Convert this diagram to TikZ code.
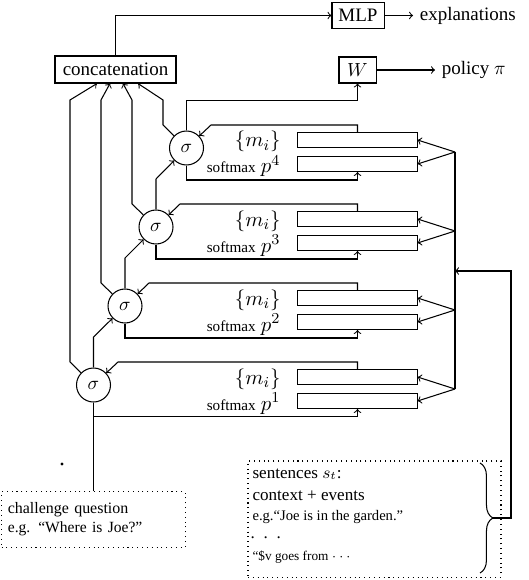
\documentclass[tikz,border=0pt]{standalone}
\usepackage{fontspec}
\setmainfont{Liberation Serif}
\usetikzlibrary{decorations.pathreplacing}

\begin{document}
\begin{tikzpicture}[x=0.5265pt, y=-0.5265pt, line width=0.55pt]
\tikzstyle{block}=[rectangle, draw, minimum height=13.5pt, inner sep=3pt]
\tikzstyle{gate}=[circle, draw, minimum size=17.9pt, inner sep=0pt]
\tikzstyle{membox}=[rectangle, draw, minimum width=62.7pt, minimum height=7.9pt, inner sep=0pt]
\tikzstyle{dotbox}=[rectangle, draw, dotted, inner sep=3.3pt]
\tikzstyle{lab}=[anchor=base east, inner sep=0pt, font=\fontsize{11}{13}\selectfont]
\tikzstyle{sent}=[anchor=base west, inner sep=0pt]

\useasboundingbox (0,0) rectangle (528,580);

% top row
\node[block, minimum width=27.4pt] (MLP) at (358,15.5) {MLP};
\node[anchor=west] (expl) at (413,15.5) {explanations};
\node[block, minimum width=63.7pt, minimum height=14.2pt] (concat) at (115.5,69.5) {concatenation};
\node[block, minimum width=19.5pt, minimum height=13.7pt] (W) at (357.5,70) {$W$};
\node[anchor=west] (policy) at (435,70) {policy $\pi$};

\draw[->] (concat.north) |- (MLP.west);
\draw[->] (MLP.east) -- (expl.west);
\draw[->] (W.east) -- (policy.west);

% hops
\node[gate] (s1) at (93.5,385) {$\sigma$};
\node[gate] (s2) at (125,306) {$\sigma$};
\node[gate] (s3) at (156,227) {$\sigma$};
\node[gate] (s4) at (186.5,148) {$\sigma$};

\node[membox] (m1) at (357.5,377) {};
\node[membox] (p1) at (357.5,401) {};
\node[membox] (m2) at (357.5,298) {};
\node[membox] (p2) at (357.5,322) {};
\node[membox] (m3) at (357.5,219) {};
\node[membox] (p3) at (357.5,243) {};
\node[membox] (m4) at (357.5,140) {};
\node[membox] (p4) at (357.5,164) {};

\node[lab] (ml1) at (281,384) {$\{m_i\}$};
\node[lab] (pl1) at (281,410) {{\fontsize{8}{9}\selectfont softmax} $p^1$};
\node[lab] (ml2) at (281,305) {$\{m_i\}$};
\node[lab] (pl2) at (281,331) {{\fontsize{8}{9}\selectfont softmax} $p^2$};
\node[lab] (ml3) at (281,226) {$\{m_i\}$};
\node[lab] (pl3) at (281,252) {{\fontsize{8}{9}\selectfont softmax} $p^3$};
\node[lab] (ml4) at (281,147) {$\{m_i\}$};
\node[lab] (pl4) at (281,173) {{\fontsize{8}{9}\selectfont softmax} $p^4$};

% memory to sigma
\draw[->] (m1.north) |- (118,362) -- (s1);
\draw[->] (m2.north) |- (149,283) -- (s2);
\draw[->] (m3.north) |- (180,204) -- (s3);
\draw[->] (m4.north) |- (211,125) -- (s4);

% sigma to softmax
\coordinate (q1) at (93.5,416.5);
\draw[->] (q1) -| (p1.south);
\draw[->] (s2.south) -- (125,338) -| (p2.south);
\draw[->] (s3.south) -- (156,259) -| (p3.south);
\draw[->] (s4.south) -- (186.5,180) -| (p4.south);

% sigma to next sigma
\draw[->] (s1.north) -- (93.5,337) -- (s2);
\draw[->] (s2.north) -- (125,258) -- (s3);
\draw[->] (s3.north) -- (156,179) -- (s4);
\draw[->] (s4.north) -- (186.5,100.5) -| (W.south);

% sigma to concatenation
\draw[->] (s1) -- (70,362) -- (70,100) -- (97,0 |- concat.south);
\draw[->] (s2) -- (101,283) -- (101,100) -- (110,0 |- concat.south);
\draw[->] (s3) -- (132,204) -- (132,100) -- (123,0 |- concat.south);
\draw[->] (s4) -- (163,125) -- (163,100) -- (138,0 |- concat.south);

% sentences feed
\coordinate (f1) at (455,389);
\coordinate (f2) at (455,310);
\coordinate (f3) at (455,231);
\coordinate (f4) at (455,152);
\draw (f4) -- (f1);
\draw[->] (f1) -- (m1.east);
\draw[->] (f1) -- (p1.east);
\draw[->] (f2) -- (m2.east);
\draw[->] (f2) -- (p2.east);
\draw[->] (f3) -- (m3.east);
\draw[->] (f3) -- (p3.east);
\draw[->] (f4) -- (m4.east);
\draw[->] (f4) -- (p4.east);

% inputs
\node[dotbox, text width=90.2pt, align=left, minimum height=29pt, font=\fontsize{8.4}{10}\selectfont] (question) at (93.5,519.5)
  {challenge question\\{\fontsize{8.2}{9}\selectfont e.g. “Where is Joe?”}};
\draw (question.north) -- (s1.south);
\fill (62,464) circle (0.8pt);

\node[dotbox, minimum width=133.2pt, minimum height=61.1pt] (sentences) at (374.5,519) {};
\node[sent, font=\fontsize{9}{11}\selectfont] (st1) at (252,478) {sentences $s_t$:};
\node[sent, font=\fontsize{9}{11}\selectfont] (st2) at (252,500) {context + events};
\node[sent, font=\fontsize{7.7}{9}\selectfont] (st3) at (252,520) {e.g.“Joe is in the garden.”};
\node[sent, font=\fontsize{9}{11}\selectfont] (st4) at (250,538) {\makebox[16pt][l]{.\hfill.\hfill.}};
\node[sent, font=\fontsize{7}{8}\selectfont] (st5) at (252,560) {“\$v goes from $\cdots$};

\draw[decorate, decoration={brace, amplitude=6.8pt}] (480,463) -- (480,573);
\coordinate (bracetip) at (493,518);
\coordinate (join) at (455,271);
\draw[->] (bracetip) -- (511,518) -- (511,271) -- (join);
\end{tikzpicture}
\end{document}
